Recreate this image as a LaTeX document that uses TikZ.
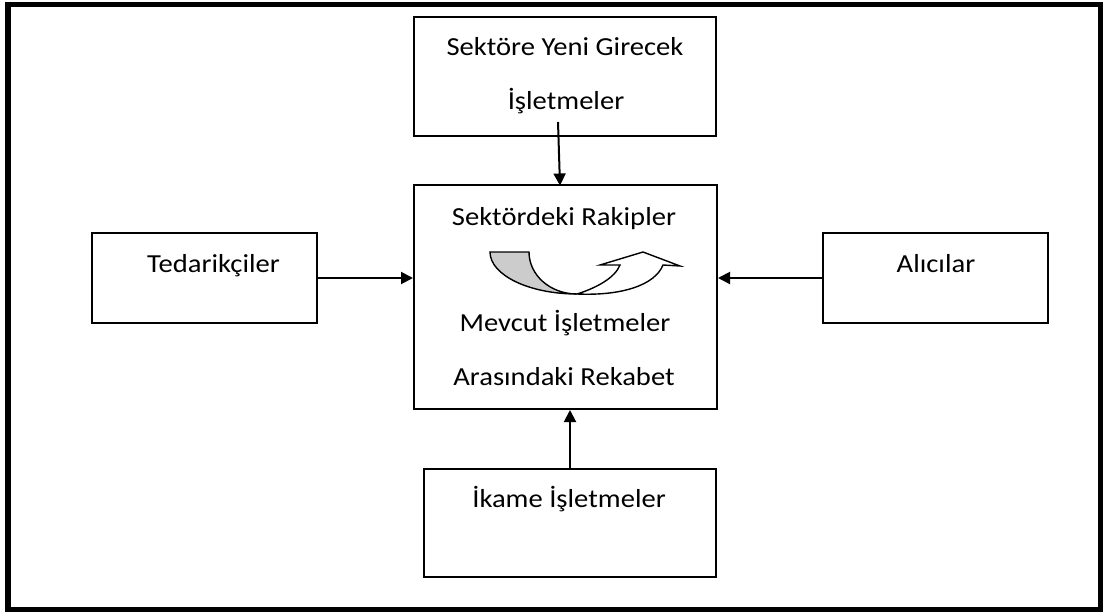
\documentclass[tikz,border=0pt]{standalone}
\usepackage{fontspec}
\setmainfont{Carlito}[FakeStretch=1.1]
\usetikzlibrary{arrows.meta}

\tikzset{
 kutu/.style={draw, line width=1pt, inner sep=0pt},
 yazi/.style={anchor=base, inner sep=0pt, font=\fontsize{13}{15}\selectfont},
 ok/.style={line width=1pt, -{Triangle[length=6pt, width=6pt]}}
}

\begin{document}
\begin{tikzpicture}[x=0.5pt, y=-0.5pt]
\useasboundingbox (0,0) rectangle (1103,615);
\draw[line width=2.6pt] (8,4.5) rectangle (1101,609.5);

\node[kutu, minimum width=151pt, minimum height=59.5pt] (yeni) at (565,76.5) {};
\node[kutu, minimum width=151.5pt, minimum height=112pt] (rakip) at (565.5,297) {};
\node[kutu, minimum width=112.5pt, minimum height=45pt] (tedarik) at (204.5,278) {};
\node[kutu, minimum width=112.5pt, minimum height=45pt] (alici) at (935.5,278) {};
\node[kutu, minimum width=146pt, minimum height=54pt] (ikame) at (570,523) {};

\node[yazi] (t1) at (565,56) {Sektöre Yeni Girecek};
\node[yazi] (t2) at (566,110) {İşletmeler};
\node[yazi] (t3) at (564,225) {Sektördeki Rakipler};
\node[yazi] (t4) at (565,331) {Mevcut İşletmeler};
\node[yazi] (t5) at (564,385) {Arasındaki Rekabet};
\node[yazi] (t6) at (213.5,272) {Tedarikçiler};
\node[yazi] (t7) at (936,272) {Alıcılar};
\node[yazi] (t8) at (569,507) {İkame İşletmeler};

\coordinate (yeniok) at (558,122);
\coordinate (rakipust) at (560,185.5);
\draw[ok] (yeniok) -- (rakipust);
\draw[ok] (tedarik.east) -- (rakip.west |- tedarik.east);
\draw[ok] (alici.west) -- (rakip.east |- alici.west);
\draw[ok] (ikame.north) -- (ikame.north |- rakip.south);

\filldraw[fill=black!20, line width=0.7pt] (490,252) -- (529,252)
 .. controls (529,275) and (550,294) .. (577,294)
 .. controls (529,294) and (490,275) .. (490,252) -- cycle;
\filldraw[fill=white, line width=0.7pt] (577,294)
 .. controls (596,288) and (615,278) .. (620,265) -- (600,265) -- (643,252)
 -- (680,266) -- (663,265)
 .. controls (655,285) and (622,296) .. (577,294) -- cycle;

\end{tikzpicture}
\end{document}
